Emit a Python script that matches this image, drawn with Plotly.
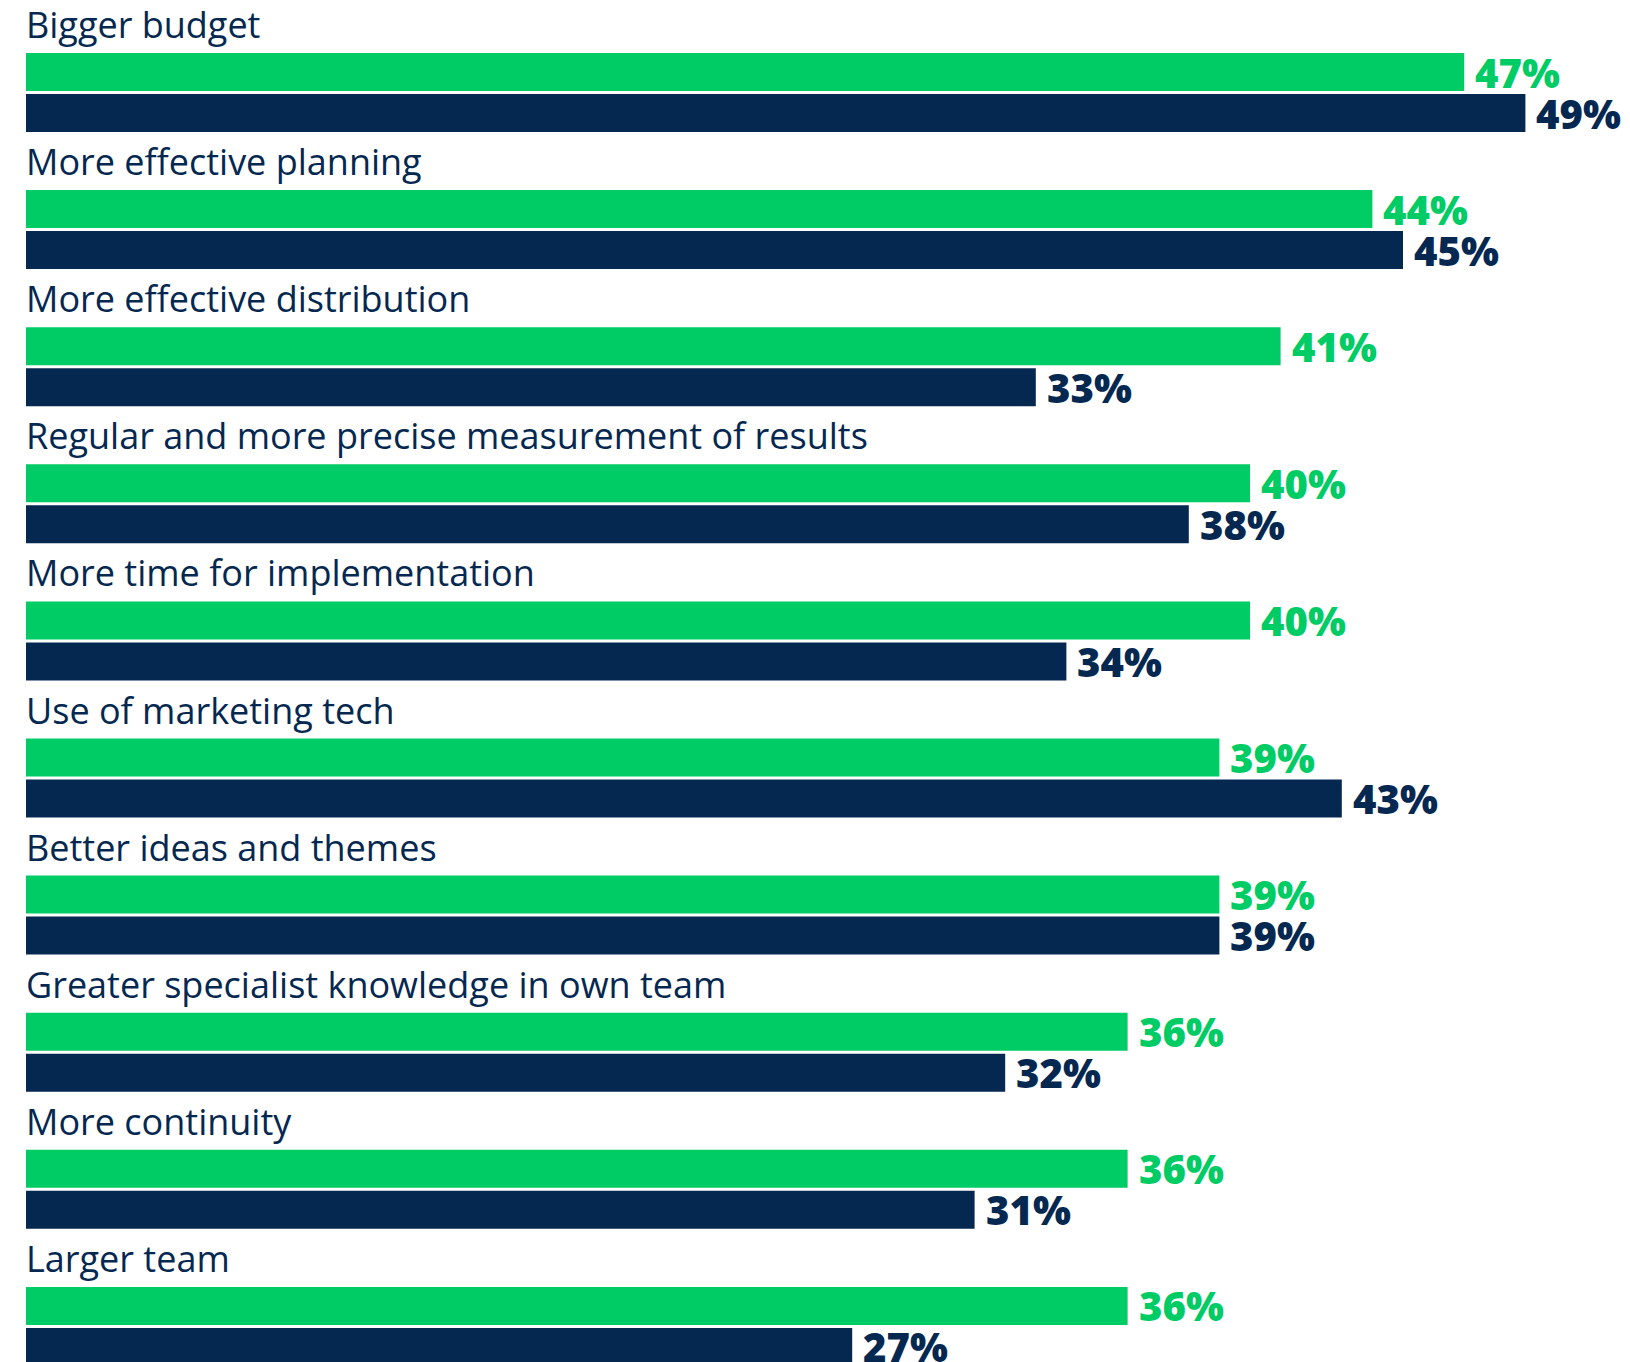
import plotly.graph_objects as go

# Survey: what would improve content marketing success (share of respondents, %)
categories = [
    "Bigger budget",
    "More effective planning",
    "More effective distribution",
    "Regular and more precise measurement of results",
    "More time for implementation",
    "Use of marketing tech",
    "Better ideas and themes",
    "Greater specialist knowledge in own team",
    "More continuity",
    "Larger team",
]
series_a = [47, 44, 41, 40, 40, 39, 39, 36, 36, 36]   # green
series_b = [49, 45, 33, 38, 34, 43, 39, 32, 31, 27]   # navy

GREEN = "#00CC66"
NAVY = "#052851"
FONT = "Open Sans"

W, H = 1630, 1362
ROW_PX = 137.1                 # vertical pitch of one category group
BAR_PX = 38                    # bar thickness
PAIR_OFFSET = 41 / ROW_PX      # second bar sits just below the first
LABEL_OFFSET = 47.5 / ROW_PX   # category caption above the bars

idx = list(range(len(categories)))
y_a = [i for i in idx]
y_b = [i + PAIR_OFFSET for i in idx]

fig = go.Figure()
fig.add_trace(go.Bar(
    x=series_a, y=y_a, orientation="h", width=BAR_PX / ROW_PX,
    marker=dict(color=GREEN, line=dict(width=0)), hoverinfo="skip",
))
fig.add_trace(go.Bar(
    x=series_b, y=y_b, orientation="h", width=BAR_PX / ROW_PX,
    marker=dict(color=NAVY, line=dict(width=0)), hoverinfo="skip",
))

annotations = []
for i, name in enumerate(categories):
    annotations.append(dict(
        x=0, y=y_a[i] - LABEL_OFFSET, xref="x", yref="y",
        text=name, showarrow=False, xanchor="left", yanchor="middle",
        font=dict(family=FONT, size=36, color=NAVY), xshift=-2,
    ))
    annotations.append(dict(
        x=series_a[i], y=y_a[i], xref="x", yref="y",
        text=f"{series_a[i]}%", showarrow=False, xanchor="left", yanchor="middle",
        font=dict(family=FONT, size=40, color=GREEN, weight=800), xshift=9,
    ))
    annotations.append(dict(
        x=series_b[i], y=y_b[i], xref="x", yref="y",
        text=f"{series_b[i]}%", showarrow=False, xanchor="left", yanchor="middle",
        font=dict(family=FONT, size=40, color=NAVY, weight=800), xshift=9,
    ))

PX_PER_PCT = 30.6
X0_PX = 26
fig.update_layout(
    width=W, height=H,
    margin=dict(l=0, r=0, t=0, b=0),
    paper_bgcolor="white", plot_bgcolor="white",
    showlegend=False, barmode="overlay",
    annotations=annotations,
    xaxis=dict(
        range=[-X0_PX / PX_PER_PCT, (W - X0_PX) / PX_PER_PCT],
        visible=False, fixedrange=True,
    ),
    yaxis=dict(
        range=[(H - 72) / ROW_PX, -72 / ROW_PX],
        visible=False, fixedrange=True,
    ),
)

fig.write_html("out.html")
